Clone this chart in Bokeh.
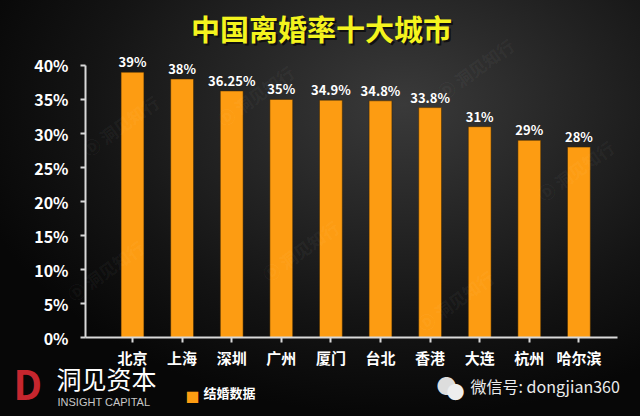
from bokeh.plotting import figure
from bokeh.models import ColumnDataSource, Range1d, FixedTicker, PrintfTickFormatter, Label
from bokeh.core.properties import value
from bokeh.embed import file_html
from bokeh.resources import INLINE

cities = ["北京", "上海", "深圳", "广州", "厦门", "台北", "香港", "大连", "杭州", "哈尔滨"]
rates = [39, 38, 36.25, 35, 34.9, 34.8, 33.8, 31, 29, 28]
y_ticks = [0, 5, 10, 15, 20, 25, 30, 35, 40]
title_text = "中国离婚率十大城市"
legend_text = "结婚数据"
brand_cn = "洞见资本"
brand_en = "INSIGHT CAPITAL"
wechat_text = "微信号: dongjian360"
watermark_text = "洞见知行"

FONT = "Noto Sans CJK SC"
W, H = 640, 416
# pixel layout of the plotting area (from the reference)
X0_PX, STEP_PX = 132.0, 49.6      # centre of first category, category spacing
Y0_PX, PCT_PX = 337.3, 6.81       # pixel row of 0 %, pixels per percent
AXL_PX, AXR_PX = 85.0, 617.0      # left / right end of the x axis line

idx = list(range(len(cities)))
labels = [f"{v:g}%" for v in rates]
src = ColumnDataSource(dict(x=idx, top=rates, label=labels))

x_start = -X0_PX / STEP_PX
x_end = (W - X0_PX) / STEP_PX
y_start = -(H - Y0_PX) / PCT_PX
y_end = Y0_PX / PCT_PX

p = figure(width=W, height=H, output_backend="svg", toolbar_location=None,
           x_range=Range1d(x_start, x_end), y_range=Range1d(y_start, y_end),
           min_border=0, min_border_left=0, min_border_right=0, min_border_top=0, min_border_bottom=0)
p.background_fill_color = None
p.border_fill_color = None
p.outline_line_color = None
p.styles = {"background": "radial-gradient(ellipse 70% 75% at 63% 25%, #3a3a3a 0%, #272727 35%, #141414 70%, #070707 100%)"}
p.grid.visible = False

def lab(x, y, text, **kw):
    p.add_layout(Label(x=x, y=H - y, x_units="screen", y_units="screen", text=text,
                       text_font=kw.pop("font", FONT), **kw))

# faint watermarks
for (wx, wy) in [(120, 125), (105, 270), (300, 250), (475, 68), (575, 170), (455, 300), (255, 95)]:
    lab(wx, wy, "Ⓓ " + watermark_text, text_align="center", text_baseline="middle", text_font_size="17px",
        text_font_style="bold", text_color="white", text_alpha=0.05, angle=0.62)

p.vbar(x="x", top="top", width=0.46, source=src, fill_color="#fd9c12", line_color="#3a2500", line_width=0.5)
p.text(x="x", y="top", text="label", source=src, text_align="center", text_baseline="bottom",
       y_offset=-1, text_color="white", text_font=value(FONT), text_font_style="bold", text_font_size="13px")

for ax in (p.xaxis[0], p.yaxis[0]):
    ax.axis_line_color = "#d9d9d9"
    ax.axis_line_width = 2
    ax.major_tick_line_color = "#d9d9d9"
    ax.major_tick_line_width = 2
    ax.major_tick_in = 0
    ax.major_tick_out = 5
    ax.minor_tick_line_color = None
    ax.major_label_text_color = "white"
    ax.major_label_text_font = FONT
    ax.major_label_text_font_style = "bold"

p.xaxis.fixed_location = 0
p.xaxis.bounds = ((AXL_PX - X0_PX) / STEP_PX, (AXR_PX - X0_PX) / STEP_PX)
p.xaxis.ticker = FixedTicker(ticks=idx)
p.xaxis.major_label_overrides = {i: c for i, c in enumerate(cities)}
p.xaxis.major_label_text_font_size = "15px"
p.xaxis.major_label_standoff = 4

p.yaxis.fixed_location = (AXL_PX - X0_PX) / STEP_PX
p.yaxis.ticker = FixedTicker(ticks=y_ticks)
p.yaxis.formatter = PrintfTickFormatter(format="%d%%")
p.yaxis.bounds = (0, 40)
p.yaxis.major_label_text_font_size = "16px"
p.yaxis.major_label_standoff = 12

lab(323, 29, title_text, text_align="center", text_baseline="middle", text_font_size="29px",
    text_font_style="bold", text_color="#101010")
lab(321, 27, title_text, text_align="center", text_baseline="middle", text_font_size="29px",
    text_font_style="bold", text_color="#f4f41e")

# legend
lab(185, 385, "■", text_baseline="top", text_font_size="14px", text_color="#fd9c12")
lab(203, 392, legend_text, text_baseline="middle", text_font_size="13px", text_font_style="bold", text_color="white")

# brand
lab(13, 382, "D", text_baseline="middle", text_font_size="40px", text_font_style="bold", text_color="#c6262e")
lab(56, 377, brand_cn, text_baseline="middle", text_font_size="25px", text_color="white")
lab(57, 401, brand_en, text_baseline="middle", text_font_size="11px", text_color="#c8c8c8", font="Liberation Sans")

# wechat
lab(436, 385, "●", text_baseline="middle", text_font_size="20px", text_color="#dddddd")
lab(446, 390, "●", text_baseline="middle", text_font_size="18px", text_color="#eeeeee")
lab(470, 385, wechat_text, text_baseline="middle", text_font_size="16px", text_color="#ececec")

open("out.html", "w").write(file_html(p, INLINE))
